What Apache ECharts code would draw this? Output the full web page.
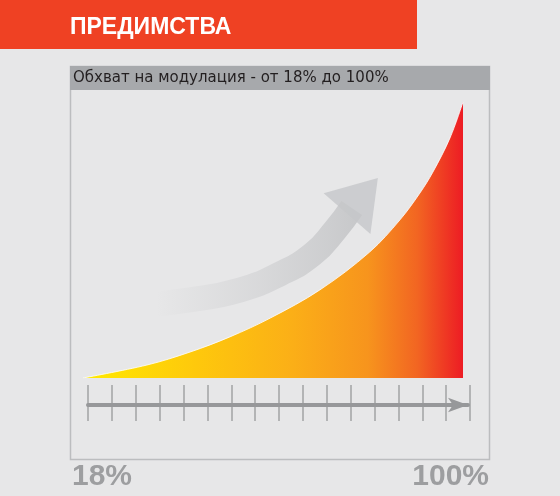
<!DOCTYPE html>
<html><head><meta charset="utf-8">
<script src="https://cdn.jsdelivr.net/npm/echarts@6/dist/echarts.min.js"></script>
<style>html,body{margin:0;padding:0;background:#e7e7e8;}#c{width:560px;height:496px;}</style>
</head><body><div id="c"></div>
<script>
// ---- data ----
const headerText = 'ПРЕДИМСТВА';
const chartTitle = 'Обхват на модулация - от 18% до 100%';
const modulation = [18, 31.8, 41.1, 49.7, 58.4, 69.1, 79.9, 86.4, 90.7, 93.5, 97.2, 100];
const output =     [0, 4.7, 9.4, 14.9, 21.7, 31.9, 45.7, 57.3, 67.0, 74.6, 87.0, 100];
const arrowPathX = [29.2, 41.1, 51.9, 60.5, 67.6, 72.4, 76.0];
const arrowPathY = [26.1, 28.3, 31.9, 37.7, 44.9, 53.6, 61.6];
const arrowHead = [78.3, 66.0];
const scaleSteps = 16;
const endLabels = ['18%', '100%'];

const chart = echarts.init(document.getElementById('c'), null, {renderer: 'canvas'});
const FONT = '"Liberation Sans", Arial, sans-serif';

chart.setOption({
  backgroundColor: '#e7e7e8',
  animation: false,
  graphic: [
    {type: 'rect', shape: {x: 0, y: 0, width: 417, height: 49}, style: {fill: '#ef4123'}, z: 1},
    {type: 'text', x: 70, y: 28, style: {text: headerText, fill: '#ffffff', font: 'bold 23px ' + FONT, textVerticalAlign: 'middle'}, z: 2},
    {type: 'rect', shape: {x: 70.5, y: 66.5, width: 419, height: 393}, style: {fill: 'none', stroke: '#bcbdbf', lineWidth: 1.5}, z: 1},
    {type: 'rect', shape: {x: 70, y: 66, width: 420, height: 24}, style: {fill: '#a7a9ac'}, z: 2},
    {type: 'text', x: 73, y: 78.5, style: {text: chartTitle, fill: '#231f20', font: '15px "DejaVu Sans", sans-serif', textVerticalAlign: 'middle'}, z: 3},
    {type: 'text', x: 72, y: 477, style: {text: endLabels[0], fill: '#9d9ea0', font: 'bold 30px ' + FONT, textVerticalAlign: 'middle'}, z: 3},
    {type: 'text', x: 489, y: 477, style: {text: endLabels[1], fill: '#9d9ea0', font: 'bold 30px ' + FONT, textVerticalAlign: 'middle', textAlign: 'right'}, z: 3}
  ],
  grid: [
    {left: 83, right: 97, top: 102, bottom: 118},
    {left: 88, right: 90, top: 385, height: 36},
    {left: 88, right: 92, top: 395, height: 10}
  ],
  xAxis: [
    {gridIndex: 0, type: 'value', min: 18, max: 100, show: false},
    {gridIndex: 1, type: 'value', min: 0, max: scaleSteps, interval: 1,
      axisLine: {show: false}, axisTick: {show: false}, axisLabel: {show: false},
      splitLine: {show: true, lineStyle: {color: '#a2a3a5', width: 1.5}}},
    {gridIndex: 2, type: 'value', min: 0, max: scaleSteps, interval: 1,
      axisLine: {show: true, symbol: ['none', 'arrow'], symbolSize: [11, 20], lineStyle: {color: '#97989a', width: 4}},
      axisTick: {show: false}, axisLabel: {show: false}, splitLine: {show: false}}
  ],
  yAxis: [
    {gridIndex: 0, type: 'value', min: 0, max: 100, show: false},
    {gridIndex: 1, type: 'value', min: 0, max: 1, show: false},
    {gridIndex: 2, type: 'value', min: 0, max: 1, show: false}
  ],
  series: [
    {
      type: 'line', xAxisIndex: 0, yAxisIndex: 0, smooth: 0.35, symbol: 'none',
      data: modulation.map((m, i) => [m, output[i]]),
      lineStyle: {color: 'rgba(255,255,255,0.8)', width: 1},
      areaStyle: {opacity: 1, color: new echarts.graphic.LinearGradient(0, 0, 1, 0, [
        {offset: 0, color: '#ffea00'},
        {offset: 0.3, color: '#fec80c'},
        {offset: 0.55, color: '#fbaf17'},
        {offset: 0.75, color: '#f7941d'},
        {offset: 0.88, color: '#f26522'},
        {offset: 1, color: '#ed1c24'}
      ])},
      z: 2
    },
    {
      type: 'line', xAxisIndex: 0, yAxisIndex: 0, smooth: 0.5, symbol: 'none',
      data: arrowPathX.map((x, i) => [x, arrowPathY[i]]),
      lineStyle: {width: 25, cap: 'butt', color: new echarts.graphic.LinearGradient(0, 0, 1, 0, [
        {offset: 0, color: 'rgba(198,199,201,0)'},
        {offset: 0.14, color: 'rgba(198,199,201,0)'},
        {offset: 0.57, color: 'rgba(198,199,201,0.45)'},
        {offset: 0.85, color: 'rgba(198,199,201,0.78)'},
        {offset: 1, color: 'rgba(198,199,201,1)'}
      ])},
      z: 1
    },
    {
      type: 'scatter', xAxisIndex: 0, yAxisIndex: 0,
      data: [arrowHead], symbol: 'triangle', symbolSize: [62, 47], symbolRotate: -41,
      itemStyle: {color: '#c6c7c9'}, z: 1
    }
  ]
});
</script></body></html>
